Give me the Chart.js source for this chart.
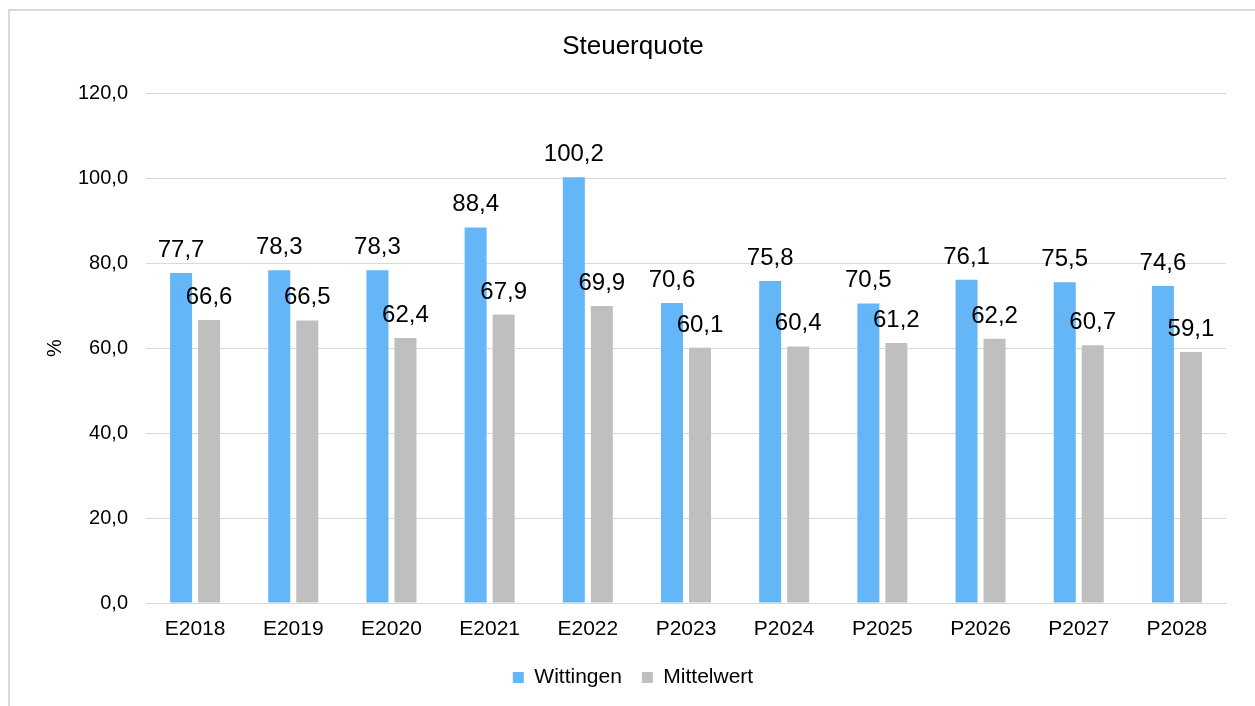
<!DOCTYPE html>
<html>
<head>
<meta charset="utf-8">
<script src="https://cdn.jsdelivr.net/npm/chart.js@4/dist/chart.umd.min.js"></script>
<style>
  html, body { margin: 0; padding: 0; background: #fff; overflow: hidden; }
  #wrap { position: absolute; left: 0; top: 0; width: 1255px; height: 706px; }
  #frame { position: absolute; left: 8px; top: 9px; width: 1300px; height: 800px;
           border-left: 2px solid #d9d9d9; border-top: 2px solid #d9d9d9; box-sizing: border-box; }
  canvas { position: absolute; left: 0; top: 0; }
</style>
</head>
<body>
<div id="wrap">
  <div id="frame"></div>
  <canvas id="c" width="1255" height="706"></canvas>
</div>
<script>
const categories = ["E2018","E2019","E2020","E2021","E2022","P2023","P2024","P2025","P2026","P2027","P2028"];
const wittingen = [77.7, 78.3, 78.3, 88.4, 100.2, 70.6, 75.8, 70.5, 76.1, 75.5, 74.6];
const mittelwert = [66.6, 66.5, 62.4, 67.9, 69.9, 60.1, 60.4, 61.2, 62.2, 60.7, 59.1];
const yTicks = [0, 20, 40, 60, 80, 100, 120];
const seriesNames = ["Wittingen", "Mittelwert"];
const chartTitle = "Steuerquote";
const yTitle = "%";

const FONT = "'Liberation Sans', Arial, sans-serif";
const fmt = v => v.toFixed(1).replace('.', ',');

const labelPlugin = {
  id: 'barLabels',
  afterDatasetsDraw(chart) {
    const ctx = chart.ctx;
    ctx.save();
    ctx.font = "24px " + FONT;
    ctx.fillStyle = "#000";
    ctx.textAlign = "center";
    ctx.textBaseline = "alphabetic";
    chart.data.datasets.forEach((ds, di) => {
      const meta = chart.getDatasetMeta(di);
      meta.data.forEach((bar, i) => {
        ctx.fillText(fmt(ds.data[i]), bar.x, bar.y - 16);
      });
    });
    ctx.restore();
  }
};

new Chart(document.getElementById('c'), {
  type: 'bar',
  data: {
    labels: categories,
    datasets: [
      { label: seriesNames[0], data: wittingen, backgroundColor: '#65b6f7',
        categoryPercentage: 0.5704, barPercentage: 0.786 },
      { label: seriesNames[1], data: mittelwert, backgroundColor: '#bfbfbf',
        categoryPercentage: 0.5704, barPercentage: 0.786 }
    ]
  },
  options: {
    responsive: false,
    animation: false,
    devicePixelRatio: 1,
    layout: { padding: { left: 40, right: 29, top: 0, bottom: 8 } },
    plugins: {
      title: {
        display: true, text: chartTitle, color: '#000',
        font: { family: FONT, size: 26, weight: 'normal', lineHeight: 1.2 },
        padding: { top: 31, bottom: 31 }
      },
      legend: {
        position: 'bottom',
        labels: {
          color: '#000',
          font: { family: FONT, size: 21 },
          boxWidth: 11, boxHeight: 11, padding: 20
        }
      },
      tooltip: { enabled: false }
    },
    scales: {
      x: {
        grid: { display: false, drawTicks: false },
        border: { display: true, color: '#d9d9d9', width: 1 },
        ticks: { color: '#000', font: { family: FONT, size: 21 }, padding: 14, maxRotation: 0 },
        afterFit: s => { s.height = 44; }
      },
      y: {
        min: 0, max: 120,
        afterBuildTicks: s => { s.ticks = yTicks.map(v => ({ value: v })); },
        grid: { color: '#d9d9d9', lineWidth: 1, drawTicks: false },
        border: { display: false },
        ticks: { color: '#000', font: { family: FONT, size: 20 }, padding: 18,
                 callback: v => fmt(v) },
        title: { display: true, text: yTitle, color: '#000',
                 font: { family: FONT, size: 20 }, padding: { top: 3, bottom: 0 } },
        afterFit: s => { s.width = 106; }
      }
    }
  },
  plugins: [labelPlugin]
});
</script>
</body>
</html>
